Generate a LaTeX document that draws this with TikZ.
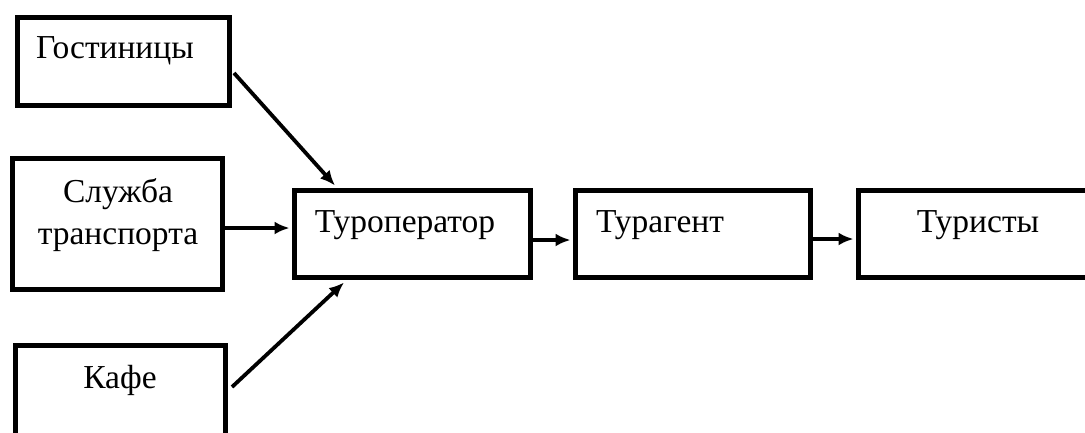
\documentclass[tikz,border=0pt]{standalone}
\usepackage{fontspec}
\setmainfont{Liberation Serif}
\usetikzlibrary{arrows.meta,calc}

\tikzset{
  box/.style={draw=black, line width=5pt, rectangle, inner sep=0pt},
  txt/.style={font=\fontsize{33.5}{42}\selectfont, inner sep=0pt, align=center},
  link/.style={line width=3.8pt, -{Latex[length=15pt,width=13pt]}}
}

\begin{document}
\begin{tikzpicture}[x=1pt, y=-1pt]
  \clip (0,0) rectangle (1085,432);
  \fill[white] (0,0) rectangle (1085,432);

  % supplier boxes
  \node[box, minimum width=212pt, minimum height=88pt]  (gost)  at (123.5,61.5) {};
  \node[box, minimum width=210pt, minimum height=131pt] (trans) at (117.5,224) {};
  \node[box, minimum width=210pt, minimum height=115pt] (kafe)  at (120.5,403) {};

  % chain boxes
  \node[box, minimum width=236pt, minimum height=87pt] (oper)    at (412.5,234) {};
  \node[box, minimum width=235pt, minimum height=87pt] (agent)   at (693,234) {};
  \node[box, minimum width=250pt, minimum height=87pt] (tourist) at (983.5,233.5) {};

  % labels
  \node[txt] at (115,51)  {Гостиницы};
  \node[txt] at (118,215) {Служба\\транспорта};
  \node[txt] at (120,380) {Кафе};
  \node[txt] at (405,225) {Туроператор};
  \node[txt] at (660,225) {Турагент};
  \node[txt] at (978,225) {Туристы};

  % connector end points
  \coordinate (g1) at ($(gost.east)+(2,11.5)$);
  \coordinate (g2) at ($(oper.north west)+(43,-2.5)$);
  \coordinate (t1) at ($(trans.east)+(0,4)$);
  \coordinate (t2) at ($(oper.west)+(-2.5,-6)$);
  \coordinate (k1) at ($(kafe.east)+(4,-16)$);
  \coordinate (k2) at ($(oper.south west)+(52,2.5)$);
  \coordinate (o1) at ($(oper.east)+(0,6)$);
  \coordinate (o2) at ($(agent.west)+(-2.5,6)$);
  \coordinate (a1) at ($(agent.east)+(0,5)$);
  \coordinate (a2) at ($(tourist.west)+(-2.5,5.5)$);

  \draw[link] (g1) -- (g2);
  \draw[link] (t1) -- (t2);
  \draw[link] (k1) -- (k2);
  \draw[link] (o1) -- (o2);
  \draw[link] (a1) -- (a2);
\end{tikzpicture}
\end{document}
